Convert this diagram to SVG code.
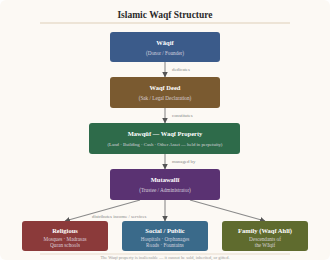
<svg xmlns="http://www.w3.org/2000/svg" width="330" height="260" viewBox="0 0 330 260">
<defs>
<marker id="arr" viewBox="0 0 10 10" refX="9" refY="5" markerWidth="5" markerHeight="5" orient="auto">
<path d="M0,0 L10,5 L0,10 z" fill="#555"/>
</marker>
<style>
text{font-family:"Liberation Serif","DejaVu Serif",serif;text-anchor:middle}
.title{font-size:9.5px;font-weight:bold;fill:#2a2a2a}
.nt{font-size:6.5px;font-weight:bold;fill:#ffffff}
.ns{font-size:5.2px;fill:#e6e0ea;opacity:0.85}
.cl{font-size:4.8px;fill:#888}
.edge{stroke:#8a8a8a;stroke-width:1.1;fill:none;marker-end:url(#arr)}
.foot{font-size:4.4px;fill:#999}
</style>
</defs>
<rect x="0" y="0" width="330" height="260" rx="6" fill="#fcf9f4"/>
<text class="title" x="165" y="18">Islamic Waqf Structure</text>
<line x1="40" y1="23" x2="290" y2="23" stroke="#e8dccd" stroke-width="1.5"/>

<g id="connectors">
<line class="edge" x1="165" y1="62" x2="165" y2="77"/>
<text class="cl" x="172" y="71" style="text-anchor:start">dedicates</text>
<line class="edge" x1="165" y1="108" x2="165" y2="123"/>
<text class="cl" x="172" y="117" style="text-anchor:start">constitutes</text>
<line class="edge" x1="165" y1="154" x2="165" y2="169"/>
<text class="cl" x="172" y="163" style="text-anchor:start">managed by</text>
<line class="edge" x1="140" y1="200" x2="65" y2="221"/>
<line class="edge" x1="165" y1="200" x2="165" y2="221"/>
<line class="edge" x1="190" y1="200" x2="265" y2="221"/>
<text class="cl" x="92" y="218" style="text-anchor:start">distributes income / services</text>
</g>

<g id="waqif">
<rect x="110" y="32" width="110" height="30" rx="3" fill="#3b5b8a"/>
<text class="nt" x="165" y="45">Wāqif</text>
<text class="ns" x="165" y="54.5">(Donor / Founder)</text>
</g>
<g id="deed">
<rect x="110" y="77" width="110" height="31" rx="3" fill="#7a5a30"/>
<text class="nt" x="165" y="90">Waqf Deed</text>
<text class="ns" x="165" y="99.5">(Sak / Legal Declaration)</text>
</g>
<g id="mawquf">
<rect x="89" y="123" width="151" height="31" rx="3" fill="#2e6b4a"/>
<text class="nt" x="165" y="136">Mawqūf — Waqf Property</text>
<text class="ns" x="165" y="145.5" style="font-size:4.8px">(Land · Building · Cash · Other Asset — held in perpetuity)</text>
</g>
<g id="mutawalli">
<rect x="110" y="169" width="110" height="31" rx="3" fill="#5a3272"/>
<text class="nt" x="165" y="182">Mutawallī</text>
<text class="ns" x="165" y="191.5">(Trustee / Administrator)</text>
</g>
<g id="religious">
<rect x="22" y="221" width="86" height="30" rx="3" fill="#8b3a3a"/>
<text class="nt" x="65" y="232.5">Religious</text>
<text class="ns" x="65" y="240.5">Mosques · Madrasas</text>
<text class="ns" x="65" y="247">Quran schools</text>
</g>
<g id="social">
<rect x="122" y="221" width="86" height="30" rx="3" fill="#3a6a8a"/>
<text class="nt" x="165" y="232.5">Social / Public</text>
<text class="ns" x="165" y="240.5">Hospitals · Orphanages</text>
<text class="ns" x="165" y="247">Roads · Fountains</text>
</g>
<g id="family">
<rect x="222" y="221" width="86" height="30" rx="3" fill="#5f6b2e"/>
<text class="nt" x="265" y="232.5">Family (Waqf Ahlī)</text>
<text class="ns" x="265" y="240.5">Descendants of</text>
<text class="ns" x="265" y="247">the Wāqif</text>
</g>

<line x1="40" y1="254" x2="290" y2="254" stroke="#e8dccd" stroke-width="1"/>
<text class="foot" x="165" y="259">The Waqf property is inalienable — it cannot be sold, inherited, or gifted.</text>
</svg>
